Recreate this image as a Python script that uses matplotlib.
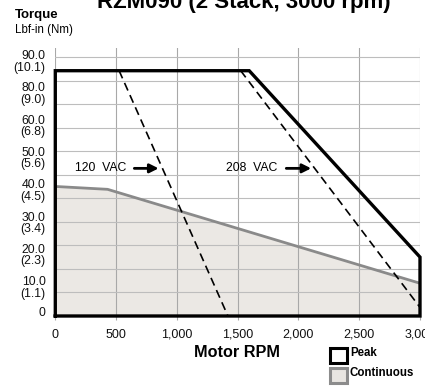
import matplotlib
matplotlib.use("Agg")
import matplotlib.pyplot as plt
from matplotlib.patches import Rectangle
from matplotlib.transforms import ScaledTranslation
import numpy as np

plt.rcParams['font.family'] = ['Liberation Sans', 'DejaVu Sans']

# Torque envelopes (RPM vs lbf-in)
peak_rpm = [0, 0, 1595, 3000, 3000, 0]
peak_torque = [0, 85.4, 85.4, 20.5, 0, 0]

cont_rpm = [0, 430, 3000]
cont_torque = [45.1, 44.1, 11.4]

vac120_rpm = [525, 1420]
vac120_torque = [85.4, 0]
vac208_rpm = [1525, 3000]
vac208_torque = [85.4, 3.0]

x_ticks = [0, 500, 1000, 1500, 2000, 2500, 3000]
x_labels = ["0", "500", "1,000", "1,500", "2,000", "2,500", "3,000"]
y_labels = ["0", "10.0\n(1.1)", "20.0\n(2.3)", "30.0\n(3.4)", "40.0\n(4.5)",
            "50.0\n(5.6)", "60.0\n(6.8)", "80.0\n(9.0)", "90.0\n(10.1)"]
y_top = 90.0

fig = plt.figure(figsize=(4.25, 3.86), dpi=100)
ax = fig.add_axes([55.3 / 425, 70 / 386, (420 - 55.3) / 425, (316 - 48.3) / 386])
ax.set_xlim(0, 3000)
ax.set_ylim(0, 93.2)

# grid
for gx in x_ticks:
    ax.axvline(gx, color="#a8a8a8", lw=0.8, zorder=1)
for gy in np.linspace(0, y_top, 12)[1:]:
    ax.axhline(gy, color="#bdbdbd", lw=0.8, zorder=1)

# continuous region
ax.fill_between(cont_rpm, cont_torque, 0, color="#ebe8e4", zorder=0.5, lw=0)
ax.plot(cont_rpm, cont_torque, color="#8a8a8a", lw=2.0, zorder=3, solid_capstyle="butt")

# voltage limit lines
ax.plot(vac120_rpm, vac120_torque, color="black", lw=1.2, ls=(0, (5, 3)), zorder=4)
ax.plot(vac208_rpm, vac208_torque, color="black", lw=1.2, ls=(0, (5, 3)), zorder=4)

# peak envelope
ax.plot(peak_rpm, peak_torque, color="black", lw=2.4, zorder=5, clip_on=False,
        solid_joinstyle="miter", solid_capstyle="projecting")

# annotations
ax.text(158, 51.4, "120  VAC", fontsize=8.8, va="center", ha="left", zorder=6)
ax.annotate("", xy=(850, 51.4), xytext=(650, 51.4),
            arrowprops=dict(arrowstyle="-|>", color="black", lw=2.0, mutation_scale=13,
                            shrinkA=0, shrinkB=0), zorder=6)
ax.text(1405, 51.4, "208  VAC", fontsize=8.8, va="center", ha="left", zorder=6)
ax.annotate("", xy=(2105, 51.4), xytext=(1900, 51.4),
            arrowprops=dict(arrowstyle="-|>", color="black", lw=2.0, mutation_scale=13,
                            shrinkA=0, shrinkB=0), zorder=6)

# axes styling
for s in ax.spines.values():
    s.set_visible(False)
ax.set_xticks(x_ticks, x_labels)
ax.tick_params(axis="x", length=3, color="#a8a8a8", labelsize=9, pad=6, labelcolor="#111111")
ax.set_yticks(np.linspace(0, y_top, len(y_labels)), y_labels)
ax.tick_params(axis="y", length=0, labelsize=8.8, pad=7, labelcolor="#111111")
for i, lab in enumerate(ax.get_yticklabels()):
    dy = 4 / 100 if i == 0 else -3 / 100
    lab.set_linespacing(0.95)
    lab.set_transform(lab.get_transform() + ScaledTranslation(0, dy, fig.dpi_scale_trans))

# titles
fig.text(243.5 / 425, 1 - 8.3 / 386, "RZM090 (2 Stack, 3000 rpm)", ha="center",
         va="baseline", fontsize=16, fontweight="bold")
fig.text(15 / 425, 1 - 18.3 / 386, "Torque", ha="left", va="baseline",
         fontsize=9.5, fontweight="bold")
fig.text(15 / 425, 1 - 33.3 / 386, "Lbf-in (Nm)", ha="left", va="baseline", fontsize=8.3)
fig.text(237 / 425, 1 - 356.7 / 386, "Motor RPM", ha="center", va="baseline",
         fontsize=11.7, fontweight="bold")

# legend
fig.patches.append(Rectangle((330 / 425, 1 - 363.3 / 386), 16.7 / 425, 15 / 386,
                             transform=fig.transFigure, facecolor="white",
                             edgecolor="black", lw=2.2))
fig.patches.append(Rectangle((330 / 425, 1 - 383.3 / 386), 16.7 / 425, 15 / 386,
                             transform=fig.transFigure, facecolor="#e8e5e1",
                             edgecolor="#8c8c8c", lw=2.2))
fig.text(350 / 425, 1 - 352.7 / 386, "Peak", ha="left", va="center",
         fontsize=8.3, fontweight="bold")
fig.text(350 / 425, 1 - 372.7 / 386, "Continuous", ha="left", va="center",
         fontsize=8.3, fontweight="bold")

fig.savefig("out.png", dpi=100)
